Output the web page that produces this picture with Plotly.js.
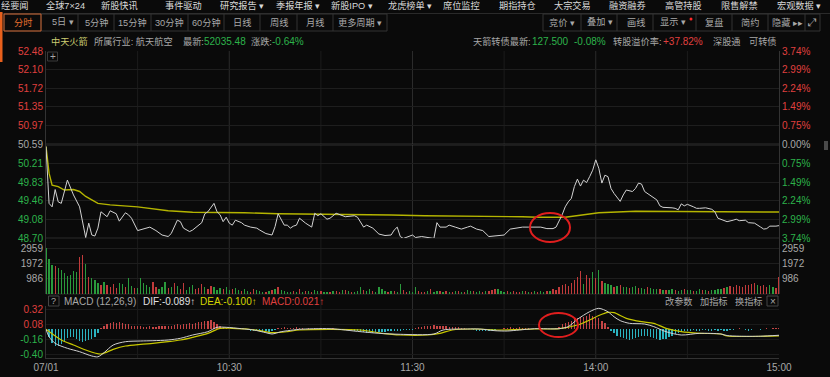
<!DOCTYPE html>
<html><head><meta charset="utf-8">
<script src="https://cdn.plot.ly/plotly-3.0.1.min.js"></script>
<style>html,body{margin:0;padding:0;background:#0a0a0a;}#c{width:830px;height:377px;}</style>
</head><body><div id="c"></div>
<script>
// ---------- DATA ----------
const timeTickVals = [0, 60, 120, 180, 240];
const timeTickText = ['07/01', '10:30', '11:30', '14:00', '15:00'];
const priceTicks = [52.48, 52.10, 51.72, 51.35, 50.97, 50.59, 50.21, 49.83, 49.46, 49.08, 48.70];
const pctTicks = ['3.74%', '2.99%', '2.24%', '1.49%', '0.75%', '0.00%', '0.75%', '1.49%', '2.24%', '2.99%', '3.74%'];
const prevClose = 50.59;
const volTicks = [986, 1972, 2959];
const macdTicks = [0.32, 0.08, -0.16, -0.40];

// price line (minute index from 09:30, value)
const priceT = [0,1,2,3,4,5,7,8,9,11,13,14,15,16,17,18,20,21,23,24,26,27,28,30,32,34,36,38,40,41,43,44,45,47,48,50,51,52,53,55,56,57,58,59,60,61,62,64,65,67,69,70,72,74,75,76,77,78,79,80,81,82,83,85,87,88,89,90,92,93,95,97,98,101,102,104,105,107,109,111,113,114,115,116,117,120,121,123,125,127,128,129,131,132,134,136,138,139,141,143,145,147,150,152,154,156,158,160,162,164,166,167,169,170,171,172,173,174,175,176,177,178,179,180,181,182,183,184,185,186,188,189,190,192,193,194,195,196,198,200,201,202,205,206,207,208,209,210,212,213,214,216,218,219,220,222,223,225,226,227,229,230,232,234,235,236,237,239,240];
const priceV = [50.55,49.40,49.33,49.68,49.43,49.40,49.87,49.70,49.57,49.33,48.71,49.00,48.76,48.74,48.90,49.23,49.13,49.25,49.19,49.04,49.21,49.17,49.10,48.85,48.88,48.92,48.85,48.76,48.73,48.79,49.06,49.03,48.90,48.83,48.86,48.96,49.01,49.19,49.23,49.40,49.23,49.17,49.03,49.12,49.00,48.96,49.06,49.01,48.96,48.92,48.90,48.86,48.79,48.76,48.93,49.19,49.06,48.96,48.96,48.90,48.94,48.96,49.10,49.00,48.92,49.20,49.15,49.19,49.08,49.10,49.20,49.15,49.13,49.15,49.12,48.92,48.96,48.90,48.78,48.75,48.76,48.86,48.92,48.73,48.69,48.76,48.71,48.73,48.71,48.69,49.01,48.92,48.92,48.96,48.92,48.88,48.92,48.94,48.88,48.85,48.73,48.74,48.76,48.88,48.90,48.92,48.92,48.92,48.92,48.89,48.89,48.92,49.17,49.33,49.43,49.50,49.74,49.89,49.75,49.87,49.82,49.94,50.07,50.28,50.11,49.81,49.97,49.94,49.70,49.60,49.44,49.57,49.67,49.64,49.70,49.81,49.79,49.64,49.55,49.47,49.35,49.32,49.31,49.30,49.27,49.39,49.35,49.38,49.33,49.30,49.30,49.31,49.28,49.23,49.10,49.05,49.03,49.06,49.08,49.05,49.06,49.01,49.00,48.92,48.88,48.89,48.94,48.94,48.95];

// average price line
const avgT = [0,1,2,4,6,9,11,13,15,17,21,30,40,48,65,76,113,124,156,161,170,177,181,193,232,240];
const avgV = [50.55,50.01,49.77,49.74,49.67,49.68,49.64,49.54,49.47,49.40,49.37,49.33,49.25,49.22,49.21,49.19,49.165,49.15,49.13,49.12,49.12,49.17,49.21,49.24,49.23,49.225];

// volume per minute (t = 0..240)
const volume = [
2959,2250,1850,1780,1700,1550,1350,1150,1200,1450,
1400,2350,2500,1900,1100,1000,880,680,600,760,
560,460,620,380,720,650,460,1050,520,360,
380,1000,700,560,460,760,460,340,420,760,
360,420,700,520,300,720,260,420,560,300,
380,640,480,300,540,480,260,360,300,420,
240,300,360,240,180,300,220,160,340,260,
200,160,140,180,260,300,420,240,200,160,
140,180,160,300,120,200,180,140,240,200,
180,160,120,140,180,200,160,240,280,180,
140,160,200,460,240,180,300,200,140,460,
300,200,160,180,220,140,620,260,160,180,
120,480,200,160,140,180,300,160,180,200,
140,220,160,140,180,200,160,140,240,180,
200,160,220,140,180,200,260,320,300,200,
160,180,140,200,120,160,180,200,140,160,
180,140,200,160,220,200,300,260,480,560,
640,540,720,900,1100,1500,640,1200,1000,1400,
1050,1550,860,700,620,560,480,520,600,460,
420,380,440,520,400,360,300,420,380,340,
300,340,280,260,240,300,280,220,260,300,
240,260,200,220,300,260,240,200,280,260,
300,340,380,420,500,460,560,520,480,600,
560,640,700,560,520,600,480,560,420,380,
1100];
// bar colour per minute: R = up, G = down
const volDir =
"GGGRGGGGGG"+"GRRGRGGGRG"+"RRRRGGRGGR"+"GGGGGRRGGG"+"RGRGRRGGGR"+
"RRGRRGGGRG"+"GRGGRGGRRG"+"GGRGRGRGGG"+"GRGRGRGRGG"+"RGGRGRRGRG"+
"RGGGRGGRGG"+"GGRGRGGRRG"+"GGRRRGRGGR"+"GRGRGRGRGG"+"RGGRGRRRGG"+
"GRGRRRGRGR"+"GRGGRGRRRR"+"RRRRRRGRRG"+"RGRGGGRGRG"+"GRGGRGGRGG"+
"GRGRGGRGGR"+"GGRGGRGRGG"+"GGRGRRRRRR"+"RRRGRRRGGR"+"R";

// MACD histogram per minute
const macdHist = [
0,-0.12,-0.22,-0.27,-0.26,-0.24,-0.18,-0.14,-0.12,-0.13,
-0.15,-0.18,-0.20,-0.19,-0.17,-0.15,-0.12,-0.06,0.02,0.06,
0.09,0.10,0.11,0.10,0.11,0.10,0.09,0.08,0.06,0.05,
0.05,0.05,0.04,0.04,0.05,0.04,0.04,0.05,0.05,0.06,
0.05,0.06,0.07,0.08,0.07,0.08,0.09,0.10,0.09,0.10,
0.11,0.12,0.14,0.13,0.15,0.12,0.08,0.05,0.03,0.02,
0.01,0.02,0.01,0.02,0.01,0.01,-0.01,-0.02,-0.02,-0.03,
-0.03,-0.04,-0.03,-0.04,-0.03,-0.01,0.02,0.02,0.03,0.02,
0.02,0.02,0.03,0.02,0.02,0.01,0.02,0.01,0.02,0.01,
0.02,0.02,0.01,0.01,0.02,0.01,0.01,0.01,0.01,0.01,
-0.01,-0.02,-0.03,-0.04,-0.05,-0.06,-0.05,-0.06,-0.05,-0.05,
-0.04,-0.04,-0.03,-0.03,-0.02,-0.02,-0.02,-0.01,-0.01,-0.01,
-0.01,0.02,0.03,0.04,0.05,0.06,0.06,0.07,0.06,0.06,
0.05,0.05,0.04,0.04,0.03,0.03,0.02,0.02,0.01,0.01,
-0.01,-0.02,-0.02,-0.03,-0.03,-0.02,-0.02,-0.01,0.01,0.01,
0.02,0.02,0.03,0.02,0.02,0.03,0.02,0.02,0.02,0.01,
0.01,0.01,0.01,0.01,0.01,0.01,0.01,0.02,0.04,0.08,
0.10,0.12,0.14,0.16,0.18,0.20,0.19,0.22,0.24,0.22,
0.20,0.18,0.14,0.10,0.04,-0.02,-0.06,-0.10,-0.12,-0.14,
-0.16,-0.17,-0.15,-0.14,-0.12,-0.10,-0.10,-0.11,-0.12,-0.14,
-0.16,-0.17,-0.16,-0.15,-0.13,-0.10,-0.08,-0.06,-0.04,-0.03,
-0.02,-0.02,-0.01,-0.02,-0.02,-0.01,-0.01,-0.02,-0.02,-0.01,
-0.02,-0.01,-0.02,-0.02,-0.01,-0.01,0.01,0.02,0.01,-0.01,
-0.02,-0.01,0.01,0.01,-0.01,0.01,0.02,0.01,0.02,0.02,
0.02];

const difT = [0,1,3,7,11,15,17,19,22,26,31,35,40,44,48,53,56,59,64,68,72,74,77,81,83,93,103,109,116,127,130,138,142,147,151,155,160,168,171,174,178,181,184,186,188,191,196,199,203,208,214,221,223,227,234,240];
const difV = [0,-0.118,-0.224,-0.304,-0.358,-0.427,-0.44,-0.374,-0.251,-0.198,-0.187,-0.182,-0.171,-0.144,-0.091,-0.038,0.032,0.032,0.01,-0.011,-0.054,-0.075,-0.038,-0.011,0,0.01,-0.038,-0.064,-0.08,-0.075,-0.011,0.005,0.005,-0.022,-0.027,-0.011,0.01,0.01,0.043,0.16,0.282,0.336,0.28,0.2,0.139,0.096,0.085,0.043,-0.038,-0.091,-0.064,-0.075,-0.1,-0.11,-0.11,-0.095];
const deaT = [0,5,9,13,18,22,26,31,35,40,44,48,53,57,61,66,70,74,79,83,103,110,116,125,129,133,140,149,160,168,174,178,181,184,186,190,195,199,203,208,214,221,223,240];
const deaV = [0,-0.171,-0.251,-0.331,-0.395,-0.32,-0.267,-0.24,-0.224,-0.198,-0.171,-0.128,-0.064,0.016,0.016,0.005,-0.022,-0.054,-0.038,-0.011,-0.011,-0.064,-0.091,-0.091,-0.064,-0.011,0.005,-0.011,0.005,0.01,0.069,0.149,0.22,0.27,0.266,0.176,0.122,0.096,0.016,-0.038,-0.064,-0.075,-0.107,-0.105];

// ---------- STYLE / LAYOUT ----------
const FONT = 'Arial, "Liberation Sans", "Noto Sans CJK SC", sans-serif';
const CJK = 9.2;
const RED = '#e0403f', GREEN = '#2db34a', GRAY = '#a8a8a8', CYAN = '#2bb3c0';
const L = 46, R = 779, T = 51, B = 358;
const px = x => (x - L) / (R - L), py = y => (B - y) / (B - T);

const minutes = volume.map((_, i) => i);
const span = (c, s) => '<span style="color:' + c + '">' + s + '</span>';

const priceTickText = priceTicks.map((v, i) => span(i < 5 ? RED : (i === 5 ? GRAY : GREEN), v.toFixed(2)));
const pctTickText = pctTicks.map((s, i) => span(i < 5 ? RED : (i === 5 ? GRAY : GREEN), s));
const macdTickText = macdTicks.map(v => span(v > 0 ? RED : GREEN, v.toFixed(2)));

const traces = [
  {x: avgT, y: avgV, type: 'scatter', mode: 'lines', line: {color: '#b4b400', width: 1.4}, xaxis: 'x', yaxis: 'y', hoverinfo: 'skip'},
  {x: priceT, y: priceV, type: 'scatter', mode: 'lines', line: {color: '#d2d2d2', width: 1}, xaxis: 'x', yaxis: 'y', hoverinfo: 'skip'},
  {x: minutes, y: volume, type: 'bar', width: 0.42, marker: {color: volDir.split('').map(c => c === 'R' ? '#c13b3b' : '#2a9a3c'), line: {width: 0}}, xaxis: 'x', yaxis: 'y3', hoverinfo: 'skip'},
  {x: minutes, y: macdHist, type: 'bar', width: 0.42, marker: {color: macdHist.map(v => v >= 0 ? '#c44545' : CYAN), line: {width: 0}}, xaxis: 'x', yaxis: 'y5', hoverinfo: 'skip'},
  {x: deaT, y: deaV, type: 'scatter', mode: 'lines', line: {color: '#c8c800', width: 1.2, shape: 'spline', smoothing: 0.8}, xaxis: 'x', yaxis: 'y5', hoverinfo: 'skip'},
  {x: difT, y: difV, type: 'scatter', mode: 'lines', line: {color: '#d0d0d0', width: 1, shape: 'spline', smoothing: 0.8}, xaxis: 'x', yaxis: 'y5', hoverinfo: 'skip'}
];

const shapes = [];
const annotations = [];
function rect(x0, y0, x1, y1, lc, fill, w) {
  shapes.push({type: 'rect', xref: 'paper', yref: 'paper', x0: px(x0), x1: px(x1), y0: py(y1), y1: py(y0),
    line: {color: lc || 'rgba(0,0,0,0)', width: w === undefined ? 1 : w}, fillcolor: fill || 'rgba(0,0,0,0)', layer: 'above'});
}
function hline(x0, x1, y, c, w) {
  shapes.push({type: 'line', xref: 'paper', yref: 'paper', x0: px(x0), x1: px(x1), y0: py(y), y1: py(y), line: {color: c, width: w || 1}, layer: 'below'});
}
function vline(x, y0, y1, c, w) {
  shapes.push({type: 'line', xref: 'paper', yref: 'paper', x0: px(x), x1: px(x), y0: py(y0), y1: py(y1), line: {color: c, width: w || 1}, layer: 'below'});
}
function txt(x, y, text, color, size, anchor) {
  annotations.push({xref: 'paper', yref: 'paper', x: px(x), y: py(y), text: text, showarrow: false,
    xanchor: anchor || 'left', yanchor: 'middle', borderpad: 0, font: {family: FONT, size: size || 10, color: color}});
}

// top menu row
hline(0, 830, 13.5, '#2a2a2a');
const menu1 = [['经要闻', 0], ['全球7×24', 45], ['新股快讯', 100], ['事件驱动', 164], ['研究报告 ▾', 219], ['季报年报 ▾', 275],
  ['新股IPO ▾', 330], ['龙虎榜单 ▾', 387], ['席位监控', 442], ['期指持仓', 498], ['大宗交易', 553], ['融资融券', 608],
  ['高管持股', 664], ['限售解禁', 720], ['宏观数据 ▾', 776]];
menu1.forEach(m => txt(m[1], 5.5, m[0], '#d8d8d8', CJK));

// period buttons
rect(4, 14, 387, 31, '#333333');
[41, 78, 114, 151, 188, 224, 260, 297, 333].forEach(x => vline(x, 14, 31, '#333333'));
rect(4, 14, 41, 31, '#c8612c');
const periods = [['分时', 22.5, '#e8702e'], ['5日 ▾', 63, GRAY], ['5分钟', 97, GRAY], ['15分钟', 132, GRAY], ['30分钟', 169, GRAY],
  ['60分钟', 206, GRAY], ['日线', 242, GRAY], ['周线', 278.5, GRAY], ['月线', 315, GRAY], ['更多周期 ▾', 360, GRAY]];
periods.forEach(p => txt(p[1], 22.5, p[0], p[2], CJK, 'center'));

// right tool buttons
rect(543, 14, 820, 31, '#333333');
[581, 617, 653, 696, 732, 768, 805].forEach(x => vline(x, 14, 31, '#333333'));
const tools = [['竞价 ▾', 562], ['叠加 ▾', 600], ['画线', 636], ['显示 ▾', 673], ['复盘', 714], ['简约', 750], ['隐藏 ▸▸', 787]];
tools.forEach(p => txt(p[1], 22.5, p[0], GRAY, CJK, 'center'));
shapes.push({type: 'circle', xref: 'paper', yref: 'paper', x0: px(689.5), x1: px(692.5), y0: py(20.5), y1: py(17.5), fillcolor: '#ff2a2a', line: {width: 0}});
txt(812.5, 22.5, '⤢', GRAY, 11, 'center');

// info line
txt(50, 41.5, '中天火箭', '#cdcd72', CJK);
txt(93, 41.5, '所属行业: 航天航空', GRAY, CJK);
txt(182, 41.5, '最新:', GRAY, CJK);
txt(203, 41.5, '52035.48', GREEN, 10);
txt(250, 41.5, '涨跌:', GRAY, CJK);
txt(271, 41.5, '-0.64%', GREEN, 10);
txt(472, 41.5, '天箭转债最新:', GRAY, CJK);
txt(531, 41.5, '127.500', GREEN, 10);
txt(573, 41.5, '-0.08%', GREEN, 10);
txt(612, 41.5, '转股溢价率:', GRAY, CJK);
txt(662, 41.5, '+37.82%', RED, 10);
txt(712, 41.5, '深股通', GRAY, CJK);
txt(748, 41.5, '可转债', GRAY, CJK);

// left orange marker & right edge bits
rect(0, 12, 2.5, 62, null, '#e8601c', 0);
rect(824, 141, 828, 150, null, '#4a4a4a', 0);

// plus box
rect(47.5, 52, 57.5, 61, '#3a3a3a');
txt(52.5, 56.5, '+', GRAY, 10, 'center');

// vertical grid
[30, 60, 90, 120, 150, 180, 210].forEach(t => {
  shapes.push({type: 'line', xref: 'x', yref: 'paper', x0: t, x1: t, y0: 0, y1: 1,
    line: {color: (t % 60 === 0) ? '#2b2b2b' : '#1c1c1c', width: 1}, layer: 'below'});
});
// prev close line
shapes.push({type: 'line', xref: 'paper', yref: 'y', x0: 0, x1: 1, y0: prevClose, y1: prevClose, line: {color: '#555555', width: 1.6}, layer: 'below'});
hline(L, R, 294, '#262626');
hline(L, R, 238, '#2a2a2a');

// MACD header
rect(48.5, 296, 59, 306, '#444444');
txt(53.7, 301, '?', GRAY, 9, 'center');
txt(63, 301, 'MACD (12,26,9)', GRAY, 10);
txt(142, 301, 'DIF:-0.089↑', '#e0e0e0', 10);
txt(199, 301, 'DEA:-0.100↑', '#d4d400', 10);
txt(261, 301, 'MACD:0.021↑', RED, 10);
txt(664, 301, '改参数', GRAY, CJK);
txt(699, 301, '加指标', GRAY, CJK);
txt(734, 301, '换指标', GRAY, CJK);
rect(767, 296, 778, 306, '#444444');
txt(772.5, 301, '×', GRAY, 10, 'center');

// red circles
shapes.push({type: 'circle', xref: 'paper', yref: 'paper', x0: px(530), x1: px(570), y0: py(242), y1: py(213), line: {color: '#e01e1e', width: 2}, layer: 'above'});
shapes.push({type: 'circle', xref: 'paper', yref: 'paper', x0: px(539), x1: px(578), y0: py(337), y1: py(313), line: {color: '#e01e1e', width: 2}, layer: 'above'});

const axFont = {family: FONT, size: 10, color: GRAY};
const layout = {
  width: 830, height: 377,
  margin: {l: L, r: 830 - R, t: T, b: 377 - B, pad: 0},
  paper_bgcolor: '#0a0a0a', plot_bgcolor: '#0a0a0a',
  showlegend: false, barmode: 'overlay', bargap: 0,
  xaxis: {range: [0, 240], anchor: 'y5', tickvals: timeTickVals, ticktext: timeTickText, tickfont: axFont,
    showgrid: false, zeroline: false, showline: true, linecolor: '#333333', ticks: '', fixedrange: true},
  yaxis: {domain: [py(238), 1], range: [48.70, 52.48], tickvals: priceTicks, ticktext: priceTickText, tickfont: axFont,
    gridcolor: '#1e1e1e', zeroline: false, showline: true, linecolor: '#333333', ticks: '', anchor: 'x'},
  yaxis2: {overlaying: 'y', side: 'right', range: [48.70, 52.48], tickvals: priceTicks, ticktext: pctTickText, tickfont: axFont,
    showgrid: false, zeroline: false, showline: true, linecolor: '#333333', ticks: '', anchor: 'x'},
  yaxis3: {domain: [py(294), py(238)], range: [0, 2959 * 56 / 46], tickvals: volTicks, ticktext: volTicks.map(String), tickfont: axFont,
    gridcolor: '#1e1e1e', zeroline: false, showline: true, linecolor: '#333333', ticks: '', anchor: 'x'},
  yaxis4: {overlaying: 'y3', side: 'right', range: [0, 2959 * 56 / 46], tickvals: volTicks, ticktext: volTicks.map(String), tickfont: axFont,
    showgrid: false, zeroline: false, showline: true, linecolor: '#333333', ticks: '', anchor: 'x'},
  yaxis5: {domain: [0, py(306)], range: [-0.459, 0.373], tickvals: macdTicks, ticktext: macdTickText, tickfont: axFont,
    gridcolor: '#1a1a1a', zeroline: false, showline: true, linecolor: '#333333', ticks: '', anchor: 'x'},
  shapes: shapes, annotations: annotations
};
// invisible traces to activate the right-side axes
traces.push({x: [0], y: [50], xaxis: 'x', yaxis: 'y2', mode: 'markers', marker: {opacity: 0}, hoverinfo: 'skip'});
traces.push({x: [0], y: [0], xaxis: 'x', yaxis: 'y4', mode: 'markers', marker: {opacity: 0}, hoverinfo: 'skip'});

Plotly.newPlot('c', traces, layout, {staticPlot: true, displayModeBar: false});
</script></body></html>
